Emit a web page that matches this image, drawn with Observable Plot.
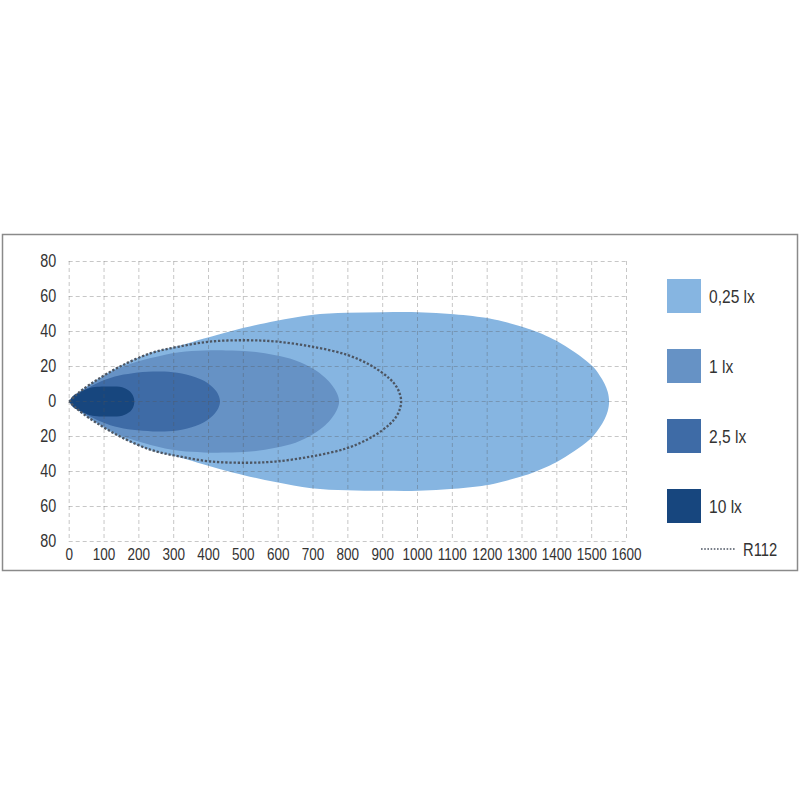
<!DOCTYPE html>
<html><head><meta charset="utf-8">
<script src="https://cdn.jsdelivr.net/npm/d3@7"></script>
<script src="https://cdn.jsdelivr.net/npm/@observablehq/plot@0.6"></script>
<style>body{margin:0;background:#fff;}</style>
</head><body><div id="chart"></div>
<script>
// Tick values
const xTicks = [0,100,200,300,400,500,600,700,800,900,1000,1100,1200,1300,1400,1500,1600];
const yTicks = [-80,-60,-40,-20,0,20,40,60,80];

// Upper half-outline of each isolux zone (distance in m, half-width in m); shapes are mirrored about 0
const lx025X = [0,20,40,80,146,234,316,387,469,592,695,797,900,1002,1105,1207,1255,1309,1340,1380,1412,1463,1504,1522,1537,1546,1550];
const lx025H = [0,3.9,7.2,12.6,20.3,27.9,31.8,36,40.5,46,49.5,50.7,51,51,49.9,47.5,45.3,42.2,40,36.6,33.2,26.6,19.8,15.2,10.2,5.6,0];

const lx1X = [0,20,40,80,146,234,316,387,450,520,592,650,700,735,755,768,775];
const lx1H = [0,3.6,6.7,12,19.3,24.8,28.2,29.1,29.2,28.6,26.4,23.5,18.7,13.6,9.2,5,0];

const lx25X = [0,20,40,80,131,182,240,285,336,387,418,428,433];
const lx25H = [0,3.4,6.3,10.5,14.3,16.2,17.1,17,15.5,11.8,6.8,3.9,0];

const lx10X = [0,10,29,55,80,120,152,172,183,187];
const lx10H = [0,3,5.3,7.5,8.4,8.6,8.2,6.2,3.5,0];

const r112X = [0,20,40,80,146,234,316,408,510,592,695,797,869,920,940,950,953];
const r112H = [0,3.8,7,12.4,20,27.6,31.4,34.3,35,34.3,31.4,26.7,20.3,13,8.3,3.8,0];

const zoneLabels = ["0,25 lx","1 lx","2,5 lx","10 lx"];
const zoneColors = ["#86b5e1","#6692c5","#3e6ba6","#17467e"];
const r112Label = "R112";

function outline(xs, hs) {
  const up = xs.map((x,i) => ({x, y: hs[i]}));
  const down = xs.map((x,i) => ({x, y: -hs[i]})).slice(0,-1).reverse();
  return up.concat(down);
}

const FONT = "'Liberation Sans', Arial, sans-serif";
const NARROW = 0.82;

const zones = [[lx025X,lx025H],[lx1X,lx1H],[lx25X,lx25H],[lx10X,lx10H]];

const chart = Plot.plot({
  width: 800,
  height: 800,
  marginLeft: 68.7,
  marginRight: 174,
  marginTop: 261,
  marginBottom: 259,
  style: {fontFamily: FONT, background: "#fff"},
  x: {domain: [0,1600], label: null},
  y: {domain: [-80,80], label: null},
  marks: [
    ...zones.map(([xs,hs],i) => Plot.line(outline(xs,hs), {x:"x", y:"y", curve:"catmull-rom", fill: zoneColors[i], stroke: "none"})),
    Plot.gridX(xTicks, {stroke:"#555", strokeOpacity:0.33, strokeDasharray:"4,3", strokeWidth:1}),
    Plot.gridY(yTicks, {stroke:"#555", strokeOpacity:0.33, strokeDasharray:"4,3", strokeWidth:1}),
    Plot.line(outline(r112X, r112H), {x:"x", y:"y", curve:"catmull-rom", stroke:"#4d5663", strokeWidth:2.3, strokeDasharray:"2.3,1.8", strokeLinecap:"butt", fill:"none"}),
    Plot.axisX(xTicks, {tickSize:0, tickPadding:7, fontSize:16.5, fill:"#333", tickFormat: d => String(d), label:null}),
    Plot.axisY(yTicks, {tickSize:0, tickPadding:13, fontSize:17.5, fill:"#333", tickFormat: d => String(Math.abs(d)), label:null})
  ]
});
document.getElementById("chart").appendChild(chart);

// Condense tick label glyphs horizontally (narrow typeface look)
chart.querySelectorAll('g[aria-label$="tick label"] text').forEach(t => {
  const tr = t.getAttribute("transform") || "";
  t.setAttribute("transform", tr + ` scale(${NARROW},1)`);
});

// Frame and legend
const svg = d3.select(chart);
svg.insert("rect", ":first-child")
  .attr("x", 2.5).attr("y", 234.5).attr("width", 795).attr("height", 336)
  .attr("fill", "#fff").attr("stroke", "#8a8a8a").attr("stroke-width", 1.5);

const lg = svg.append("g").attr("font-family", FONT).attr("text-anchor", "start");
zoneLabels.forEach((lab, i) => {
  const y0 = 279 + i * 70;
  lg.append("rect").attr("x", 667).attr("y", y0).attr("width", 34).attr("height", 34).attr("fill", zoneColors[i]);
  lg.append("text").attr("transform", `translate(709,${y0 + 24}) scale(${NARROW},1)`)
    .attr("font-size", 19).attr("fill", "#333").text(lab);
});
lg.append("line").attr("x1", 701).attr("x2", 736).attr("y1", 549).attr("y2", 549)
  .attr("stroke", "#4d5663").attr("stroke-width", 1.6).attr("stroke-dasharray", "1.6,1.6");
lg.append("text").attr("transform", `translate(743,556) scale(${NARROW},1)`)
  .attr("font-size", 18).attr("fill", "#333").text(r112Label);
</script>
</body></html>
